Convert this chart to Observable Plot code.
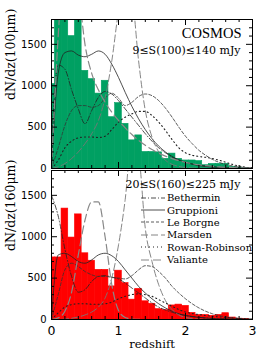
<!DOCTYPE html>
<html><head><meta charset="utf-8">
<script src="https://cdn.jsdelivr.net/npm/d3@7"></script>
<script src="https://cdn.jsdelivr.net/npm/@observablehq/plot@0.6"></script>
<style>
html,body{margin:0;padding:0;background:#fff;}
#wrap{position:relative;width:266px;height:354px;overflow:hidden;background:#fff;}
#wrap svg{display:block;}
#legend{position:absolute;left:141px;top:191.5px;font-family:"DejaVu Serif";font-size:10px;color:#000;}
#legend .row{height:12.4px;display:flex;align-items:center;white-space:nowrap;}
#legend svg{margin-right:2px;flex:none;}
</style></head><body><div id="wrap"><div id="plots"></div><div id="legend"></div></div>
<script>
// ---- histogram data (bin centres, width 0.1) ----
const binCenters = [0.0,0.1,0.2,0.3,0.4,0.5,0.6,0.7,0.8,0.9,1.0,1.1,1.2,1.3,1.4,1.5,1.6,1.7,1.8,1.9,2.0,2.1,2.2,2.3,2.4,2.5,2.6,2.7,2.8,2.9];
const binWidth = 0.1;
const counts100 = [1020,2000,2000,1600,2000,1180,1080,905,1060,620,790,540,340,400,200,200,195,117,180,117,97,97,90,40,55,57,57,20,10,5];
const counts160 = [750,750,1340,990,1270,800,710,600,600,400,590,440,240,370,220,190,125,113,170,180,165,80,55,55,45,56,76,24,10,5];

// ---- model curves ----
const zModel = [0.0,0.1,0.2,0.3,0.4,0.5,0.6,0.7,0.8,0.9,1.0,1.1,1.2,1.3,1.4,1.5,1.6,1.7,1.8,1.9,2.0,2.1,2.2,2.3,2.4,2.5,2.6,2.7,2.8,2.9,3.0];
const modelNames = ["Bethermin","Gruppioni","Le Borgne","Marsden","Rowan-Robinson","Valiante"];

const bethermin100 = [300,1250,1200,950,720,540,700,860,930,900,820,720,620,520,420,330,250,190,140,100,75,55,40,30,22,16,12,9,7,5,4];
const gruppioni100 = [0,1150,1400,1420,1370,1350,1380,1420,1380,1260,1100,920,750,600,470,360,270,200,145,105,75,52,36,25,17,12,8,5,3,2,1];
const leborgne100  = [0,250,520,700,760,760,740,760,850,910,850,760,800,870,900,880,820,730,620,500,390,300,220,160,110,75,50,32,20,12,8];
const marsden100   = [0,20,60,120,200,300,420,580,850,1300,1900,2300,2100,1300,700,380,200,100,50,25,12,6,3,2,1,0,0,0,0,0,0];
const rowan100     = [0,100,250,330,370,380,380,375,390,470,560,620,660,690,690,640,560,460,350,250,190,160,145,135,120,100,75,50,30,15,8];
const valiante100  = [0,1600,2600,2800,2200,1500,1150,950,800,680,580,490,410,340,280,230,185,150,120,95,75,58,45,35,27,20,15,11,8,6,4];

const bethermin160 = [1500,1250,850,520,330,360,460,520,530,510,490,440,380,320,260,200,150,115,88,65,48,35,26,19,14,10,7,5,4,3,2];
const gruppioni160 = [0,780,800,760,700,680,720,780,800,770,700,600,500,400,320,250,190,140,100,70,50,36,25,17,12,8,5,3,2,1,1];
const leborgne160  = [0,300,600,680,640,580,540,520,520,510,500,490,530,600,650,640,580,500,400,320,250,190,140,100,70,48,32,20,12,8,5];
const marsden160   = [0,0,5,15,30,55,90,150,260,500,900,1450,2200,2000,1100,700,420,230,120,55,25,10,4,2,1,0,0,0,0,0,0];
const rowan160     = [0,80,150,180,190,190,185,185,190,210,250,280,300,310,300,280,240,200,160,120,90,72,60,48,40,32,25,18,12,8,5];
const valiante160  = [0,20,100,330,780,1200,1420,1420,1000,420,110,25,5,1,0,0,0,0,0,0,0,0,0,0,0,0,0,0,0,0,0];

// ---- ticks and labels ----
const yMajor = [0,500,1000,1500];
const yMinor = [100,200,300,400,600,700,800,900,1100,1200,1300,1400,1600,1700];
const xMajor = [0,1,2,3];
const xMinor = [0.2,0.4,0.6,0.8,1.2,1.4,1.6,1.8,2.2,2.4,2.6,2.8];
const yLabels = ["dN/dz(100\u03bcm)","dN/dz(160\u03bcm)"];
const fluxLabels = ["9\u2264S(100)\u2264140 mJy","20\u2264S(160)\u2264225 mJy"];
const surveyLabel = ["COSMOS"];
const xLabel = ["redshift"];

const modelStyles = [
  {color:"#222", dash:"5,2,1,2", width:0.8},
  {color:"#222", dash:null, width:0.8},
  {color:"#333", dash:"3,2", width:0.8},
  {color:"#777", dash:"7,3", width:0.9},
  {color:"#222", dash:"1,3", width:1.1},
  {color:"#888", dash:"8,4", width:1.2}
];

const W = 266, ML = 51, MR = 14;
const innerW = W - ML - MR;
const serif = "DejaVu Serif";
const sans = "DejaVu Sans";

function panel({counts, fill, curves, yLabel, flux, title, height, marginTop, marginBottom, isBottom}) {
  const innerH = height - marginTop - marginBottom;
  const bins = binCenters.map((z, i) => ({x1: z - binWidth/2, x2: z + binWidth/2, n: counts[i]}));
  const marks = [Plot.rectY(bins, {x1:"x1", x2:"x2", y:"n", fill, stroke:fill, strokeWidth:0.6, clip:true, inset:0})];
  modelNames.forEach((name, k) => {
    const pts = zModel.map((z, i) => ({z, v: curves[k][i]}));
    const st = modelStyles[k];
    marks.push(Plot.line(pts, {x:"z", y:"v", stroke:st.color, strokeWidth:st.width,
      strokeDasharray:st.dash, curve:"monotone-x", clip:true}));
  });
  marks.push(Plot.frame({stroke:"#000", strokeWidth:1}));
  // inward ticks
  marks.push(Plot.tickY(yMajor, {y:d=>d, insetRight: innerW-6}));
  marks.push(Plot.tickY(yMinor, {y:d=>d, insetRight: innerW-3}));
  marks.push(Plot.tickY(yMajor, {y:d=>d, insetLeft: innerW-6}));
  marks.push(Plot.tickY(yMinor, {y:d=>d, insetLeft: innerW-3}));
  marks.push(Plot.tickX(xMajor, {x:d=>d, insetTop: innerH-6}));
  marks.push(Plot.tickX(xMinor, {x:d=>d, insetTop: innerH-3}));
  marks.push(Plot.tickX(xMajor, {x:d=>d, insetBottom: innerH-6}));
  marks.push(Plot.tickX(xMinor, {x:d=>d, insetBottom: innerH-3}));
  // tick labels
  marks.push(Plot.text(yMajor, {y:d=>d, text:d=>String(d), frameAnchor:"left", dx:-5, textAnchor:"end",
    fontFamily:sans, fontSize:10}));
  marks.push(Plot.text([yLabel], {text:d=>d, frameAnchor:"left", rotate:-90, dx:-41, dy:6,
    fontFamily:serif, fontSize:12.5}));
  marks.push(Plot.text([flux], {text:d=>d, frameAnchor:"top-right", dx:-12, dy: title ? 31 : 13.5,
    textAnchor:"end", lineAnchor:"middle", fontFamily:serif, fontSize:11}));
  if (title) marks.push(Plot.text([title], {text:d=>d, frameAnchor:"top-right", dx:-11, dy:14,
    textAnchor:"end", lineAnchor:"middle", fontFamily:"Liberation Serif", fontSize:14.5}));
  if (isBottom) {
    marks.push(Plot.text(xMajor, {x:d=>d, text:d=>String(d), frameAnchor:"bottom", dy:11,
      lineAnchor:"middle", fontFamily:sans, fontSize:12.5}));
    marks.push(Plot.text(xLabel, {text:d=>d, frameAnchor:"bottom", dy:25, lineAnchor:"middle",
      fontFamily:serif, fontSize:11.5}));
  }
  return Plot.plot({width:W, height, marginLeft:ML, marginRight:MR, marginTop, marginBottom,
    x:{domain:[0,3], axis:null}, y:{domain:[0,1800], axis:null},
    style:{background:"#fff", color:"#000", overflow:"visible"}, marks});
}

const host = document.getElementById("plots");
host.appendChild(panel({counts:counts100, fill:"#00a062",
  curves:[bethermin100,gruppioni100,leborgne100,marsden100,rowan100,valiante100],
  yLabel:yLabels[0], flux:fluxLabels[0], title:surveyLabel[0], height:169, marginTop:19, marginBottom:1}));
host.appendChild(panel({counts:counts160, fill:"#ff0000",
  curves:[bethermin160,gruppioni160,leborgne160,marsden160,rowan160,valiante160],
  yLabel:yLabels[1], flux:fluxLabels[1], title:null, height:185, marginTop:1, marginBottom:35, isBottom:true}));

// legend
const leg = document.getElementById("legend");
modelNames.forEach((name, k) => {
  const st = modelStyles[k];
  const row = document.createElement("div");
  row.className = "row";
  row.innerHTML = `<svg width="24" height="12"><line x1="0" y1="6" x2="24" y2="6" stroke="${st.color}" stroke-width="${st.width}" ${st.dash ? `stroke-dasharray="${st.dash}"` : ""}/></svg><span>${name}</span>`;
  leg.appendChild(row);
});
</script>
</body></html>
